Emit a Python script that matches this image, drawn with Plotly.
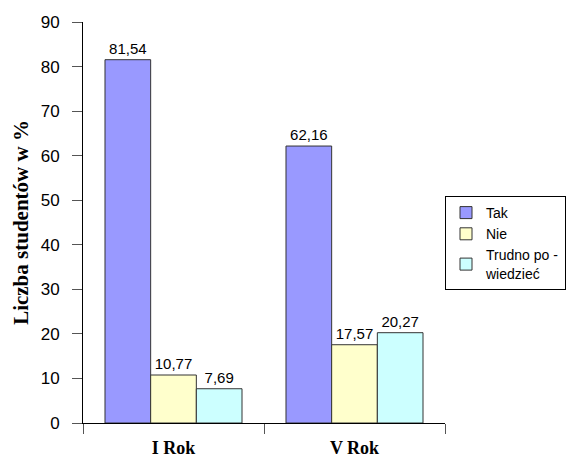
import plotly.graph_objects as go

categories = ["I Rok", "V Rok"]
series_names = ["Tak", "Nie", "Trudno po -<br>wiedzieć"]
tak = [81.54, 62.16]
nie = [10.77, 17.57]
trudno = [7.69, 20.27]
colors = ["#9999FF", "#FFFFCC", "#CCFFFF"]

fig = go.Figure()
for name, vals, col in zip(series_names, [tak, nie, trudno], colors):
    fig.add_trace(go.Bar(
        x=categories, y=vals, name=name,
        marker=dict(color=col, line=dict(color="#333333", width=1)),
        texttemplate="%{y:.2f}", textposition="outside",
        textfont=dict(family="Liberation Sans, Arial", size=15, color="black"),
        cliponaxis=False,
    ))

fig.update_layout(
    width=571, height=461,
    margin=dict(l=83, r=121, t=22, b=38),
    paper_bgcolor="white", plot_bgcolor="white",
    separators=", ",
    barmode="group", bargap=0.243, bargroupgap=0,
    font=dict(family="Liberation Sans, Arial", size=14, color="black"),
    showlegend=True,
    legend=dict(
        xref="container", yref="container",
        x=445/571, y=1-196/461, xanchor="left", yanchor="top",
        bordercolor="black", borderwidth=1, bgcolor="white",
        font=dict(family="Liberation Sans, Arial", size=14, color="black"),
        itemwidth=30,
    ),
)
fig.update_xaxes(
    showline=True, linecolor="black", linewidth=1,
    ticks="outside", tickson="boundaries", ticklen=10, tickcolor="#555555",
    ticklabelstandoff=8,
    tickfont=dict(family="Liberation Serif, Times New Roman", size=18, color="black", weight="bold"),
    showgrid=False, automargin=False,
)
fig.update_yaxes(
    range=[0, 90], dtick=10,
    showline=True, linecolor="black", linewidth=1,
    ticks="outside", ticklen=10, tickcolor="#555555",
    ticklabelstandoff=9,
    tickfont=dict(family="Liberation Sans, Arial", size=17, color="black"),
    showgrid=False, zeroline=False, automargin=False,
    title=dict(text="Liczba studentów w %",
               font=dict(family="Liberation Serif, Times New Roman", size=21, color="black", weight="bold"),
               standoff=6),
)
fig.write_html("out.html", config={"displayModeBar": False},
               post_script="document.body.style.margin='0';")
